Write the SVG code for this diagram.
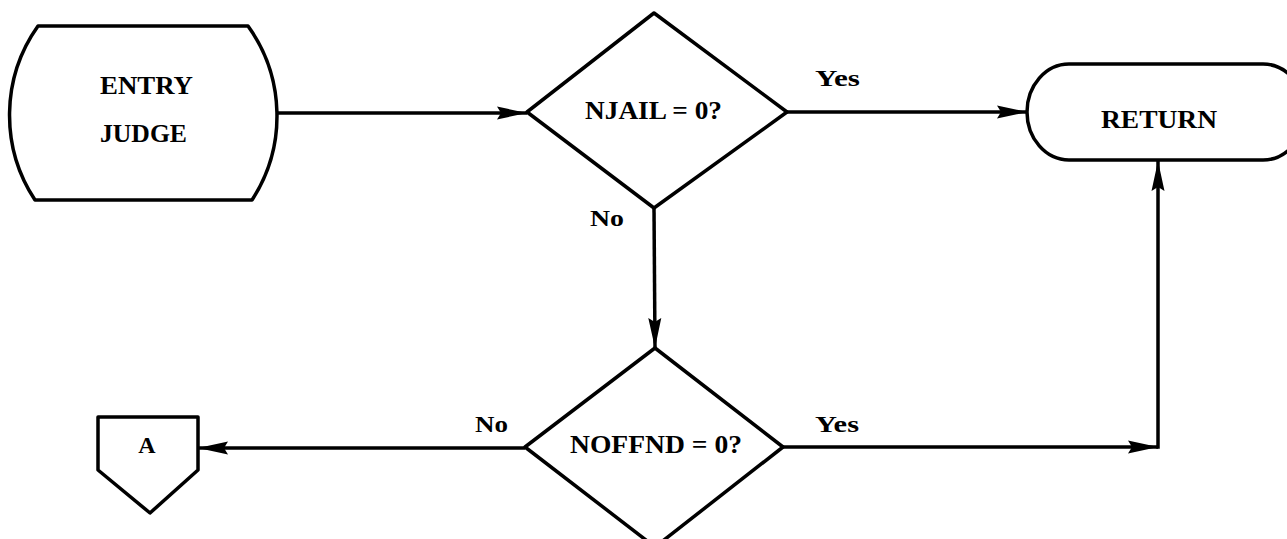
<svg xmlns="http://www.w3.org/2000/svg" width="1287" height="539" viewBox="0 0 1287 539">
<style>
.shape{fill:none;stroke:#000;stroke-width:3.5;stroke-linejoin:round}
.conn{fill:none;stroke:#000;stroke-width:3.5}
.lbl{font-family:"Liberation Serif","DejaVu Serif",serif;font-weight:bold;fill:#000}
.big{font-size:26px}
.small{font-size:24px}
</style>
<defs>
<marker id="arr" markerUnits="userSpaceOnUse" markerWidth="32" markerHeight="16" refX="30" refY="8" orient="auto">
<path d="M0,1.5 L30,8 L0,14.5 L4,8 Z" fill="#000"/>
</marker>
</defs>
<rect width="1287" height="539" fill="#fff"/>
<g id="connectors">
<line class="conn" x1="277" y1="113" x2="527" y2="113" marker-end="url(#arr)"/>
<line class="conn" x1="787" y1="112" x2="1027" y2="112" marker-end="url(#arr)"/>
<line class="conn" x1="654" y1="208" x2="655" y2="348" marker-end="url(#arr)"/>
<line class="conn" x1="525" y1="448" x2="198" y2="448" marker-end="url(#arr)"/>
<line class="conn" x1="783" y1="447" x2="1158" y2="447" marker-end="url(#arr)"/>
<line class="conn" x1="1158" y1="448.75" x2="1158" y2="161" marker-end="url(#arr)"/>
<text class="lbl small" x="815" y="86" textLength="45" lengthAdjust="spacingAndGlyphs">Yes</text>
<text class="lbl small" x="590" y="226" textLength="34" lengthAdjust="spacingAndGlyphs">No</text>
<text class="lbl small" x="475" y="432" textLength="33" lengthAdjust="spacingAndGlyphs">No</text>
<text class="lbl small" x="815" y="432" textLength="44" lengthAdjust="spacingAndGlyphs">Yes</text>
</g>
<g id="entry">
<path class="shape" d="M38,26 L248,26 A154,154 0 0 1 252,200 L35,200 A154,154 0 0 1 38,26 Z"/>
<text class="lbl big" x="100" y="94" textLength="93" lengthAdjust="spacingAndGlyphs">ENTRY</text>
<text class="lbl big" x="100" y="142" textLength="87" lengthAdjust="spacingAndGlyphs">JUDGE</text>
</g>
<g id="njail">
<path class="shape" d="M527,112 L654,13 L787,112 L654,208 Z"/>
<text class="lbl big" x="585" y="119" textLength="137" lengthAdjust="spacingAndGlyphs">NJAIL = 0?</text>
</g>
<g id="return">
<rect class="shape" x="1027" y="64" width="278" height="96" rx="42" ry="48"/>
<text class="lbl big" x="1101" y="128" textLength="116" lengthAdjust="spacingAndGlyphs">RETURN</text>
</g>
<g id="noffnd">
<path class="shape" d="M525,447 L655,348 L783,447 L655,547 Z"/>
<text class="lbl big" x="570" y="453" textLength="172" lengthAdjust="spacingAndGlyphs">NOFFND = 0?</text>
</g>
<g id="connA">
<path class="shape" d="M98,417 L198,417 L198,470 L150,513 L98,470 Z"/>
<text class="lbl small" x="147" y="453" text-anchor="middle">A</text>
</g>
</svg>
